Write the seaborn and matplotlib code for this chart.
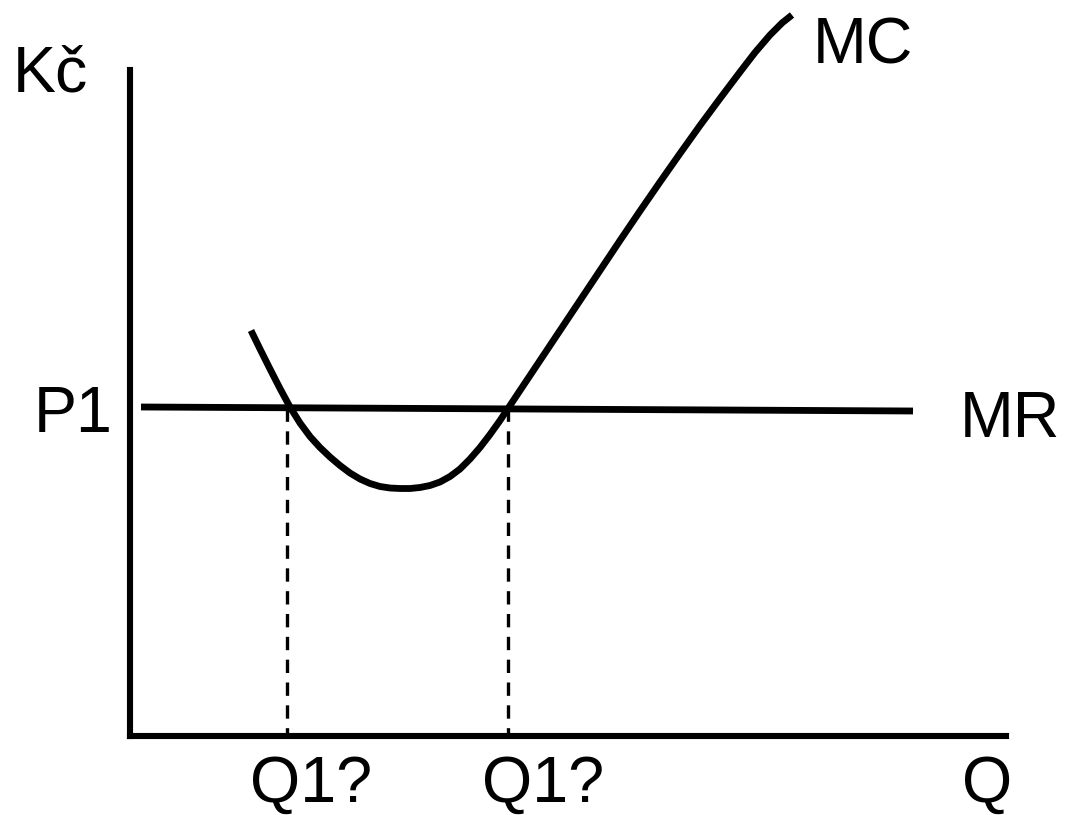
import matplotlib
matplotlib.use("Agg")
import matplotlib.pyplot as plt
import seaborn as sns
import pandas as pd

sns.set_theme(style="white")
plt.rcParams['font.family'] = ['Liberation Sans', 'DejaVu Sans']

# ---- data (quantity Q, price Kč), origin at the axis corner ----
mc_q = [121, 130, 140, 150, 160, 170, 180, 190, 200, 210, 220, 230, 240, 250, 260, 270,
        280, 290, 300, 310, 320, 330, 340, 350, 360, 370, 378, 390, 410, 430, 450, 470,
        490, 510, 530, 550, 570, 590, 610, 625, 640, 652, 662]
mc_p = [405.5, 387, 367, 347.5, 329, 313, 299.5, 288.5, 279, 270.5, 263, 257, 252.5, 249.5,
        248, 247.5, 247.5, 248.5, 250.5, 254, 259.5, 267, 277, 288.5, 301.5, 315.5, 327.5,
        345.5, 375.5, 405.5, 435.5, 465.5, 495.5, 525, 554, 582.5, 610.5, 637.5, 664,
        683.5, 701, 713, 721]
mr_q = [11, 783]
mr_p = [329, 325]
q1_left = 157
q1_right = 378
p1_level = 328
y_axis_top = 666
x_axis_end = 876

labels = {"Kč": (-117, 644), "MC": (683, 672), "P1": (-96, 304), "MR": (830, 299),
          "Q1?_a": (120, -66), "Q1?_b": (352, -66), "Q": (832, -66)}

fig = plt.figure(figsize=(10.65, 8.15), dpi=100)
ax = fig.add_axes([0, 0, 1, 1])
ax.set_xlim(-130, 935)
ax.set_ylim(-79, 736)

lw = 4.9
mc_df = pd.DataFrame({"Q": mc_q, "P": mc_p})
sns.lineplot(data=mc_df, x="Q", y="P", sort=False, estimator=None, color="black",
             lw=lw, ax=ax, solid_capstyle="butt", solid_joinstyle="round")
mr_df = pd.DataFrame({"Q": mr_q, "P": mr_p})
sns.lineplot(data=mr_df, x="Q", y="P", sort=False, estimator=None, color="black",
             lw=lw, ax=ax, solid_capstyle="butt")

for qv in (q1_left, q1_right):
    ax.plot([qv, qv], [p1_level, 0], color="black", lw=2.4,
            linestyle=(0, (4.0, 2.85)), dash_capstyle="butt")

# axes
for s in ("top", "right"):
    ax.spines[s].set_visible(False)
ax.spines["left"].set_position(("data", 0))
ax.spines["bottom"].set_position(("data", 0))
ax.spines["left"].set_bounds(0, y_axis_top)
ax.spines["bottom"].set_bounds(0, x_axis_end)
for s in ("left", "bottom"):
    ax.spines[s].set_linewidth(4.4)
    ax.spines[s].set_color("black")
    ax.spines[s].set_capstyle("projecting")
ax.set_xticks([])
ax.set_yticks([])
ax.set_xlabel("")
ax.set_ylabel("")
ax.patch.set_alpha(0)

for key, (x, y) in labels.items():
    txt = key.split("_")[0]
    ax.text(x, y, txt, fontsize=46.5, ha="left", va="baseline", color="black")

fig.savefig("out.png", dpi=100)
